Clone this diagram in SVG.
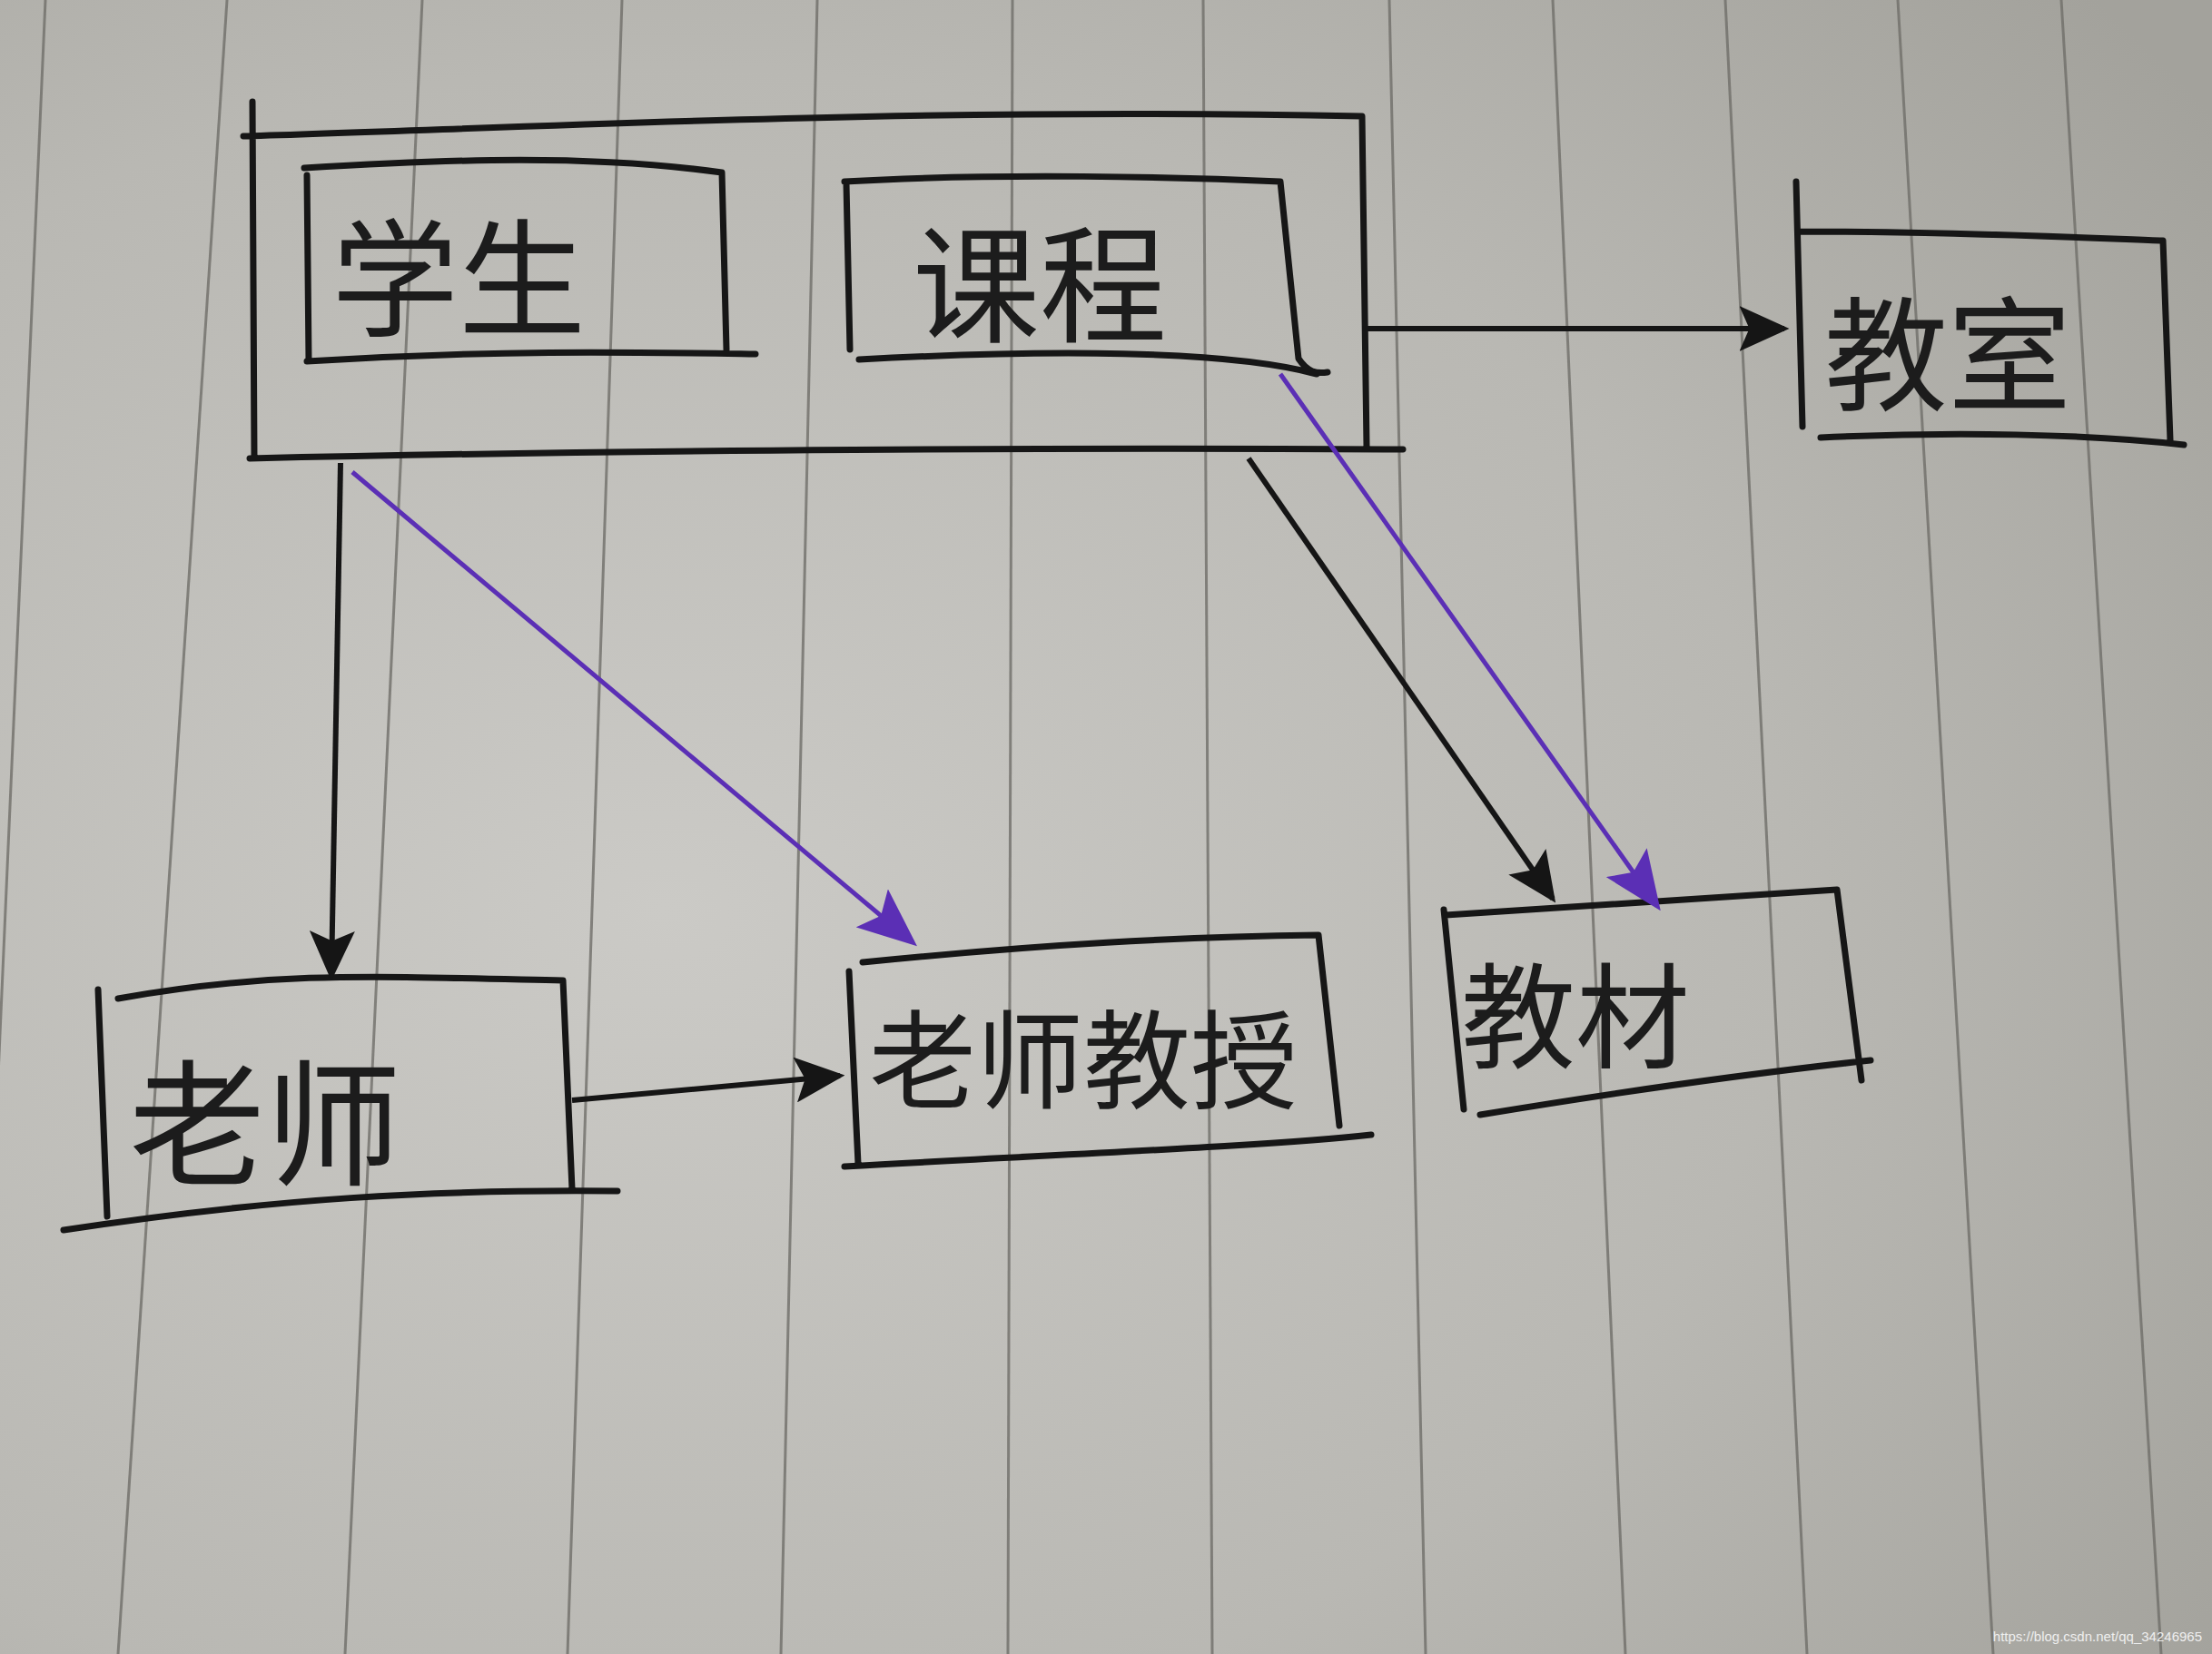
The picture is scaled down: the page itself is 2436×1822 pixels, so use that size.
<svg xmlns="http://www.w3.org/2000/svg" width="2436" height="1822" viewBox="0 0 2436 1822">
<defs>
<radialGradient id="paper" cx="0.3" cy="0.55" r="0.85">
<stop offset="0" stop-color="#cbcac6"/>
<stop offset="0.6" stop-color="#b9b8b3"/>
<stop offset="1" stop-color="#a3a29c"/>
</radialGradient>
<marker id="ah" viewBox="0 0 10 10" refX="9" refY="5" markerWidth="55" markerHeight="50" markerUnits="userSpaceOnUse" orient="auto" preserveAspectRatio="none">
<path d="M0,0 L10,5 L0,10 L2,5 z" fill="#151515"/>
</marker>
<marker id="ahp" viewBox="0 0 10 10" refX="9" refY="5" markerWidth="65" markerHeight="55" markerUnits="userSpaceOnUse" orient="auto" preserveAspectRatio="none">
<path d="M0,0 L10,5 L0,10 L2,5 z" fill="#5b2fb5"/>
</marker>
<style>
.rule{stroke:#6f6e69;stroke-width:3;fill:none;opacity:0.8}
.box{fill:none;stroke:#161616;stroke-width:7;stroke-linejoin:round;stroke-linecap:round}
.lbl{font-family:"Noto Sans CJK SC","Noto Sans",sans-serif;fill:#1c1c1c;text-anchor:middle;dominant-baseline:central}
.blk{stroke:#151515;stroke-width:6;fill:none}
.pur{stroke:#5b2fb5;stroke-width:5;fill:none}
</style>
</defs>
<rect width="2436" height="1822" fill="url(#paper)"/>
<g id="ruled-lines">
<line class="rule" x1="50" y1="0" x2="-30" y2="1822"/>
<line class="rule" x1="250" y1="0" x2="130" y2="1822"/>
<line class="rule" x1="465" y1="0" x2="380" y2="1822"/>
<line class="rule" x1="685" y1="0" x2="625" y2="1822"/>
<line class="rule" x1="900" y1="0" x2="860" y2="1822"/>
<line class="rule" x1="1115" y1="0" x2="1110" y2="1822"/>
<line class="rule" x1="1325" y1="0" x2="1335" y2="1822"/>
<line class="rule" x1="1530" y1="0" x2="1570" y2="1822"/>
<line class="rule" x1="1710" y1="0" x2="1790" y2="1822"/>
<line class="rule" x1="1900" y1="0" x2="1990" y2="1822"/>
<line class="rule" x1="2090" y1="0" x2="2195" y2="1822"/>
<line class="rule" x1="2270" y1="0" x2="2380" y2="1822"/>
</g>
<g id="group-student-course">
<path class="box" d="M278,112 L280,505 M268,150 C600,140 1000,118 1500,128 L1505,492 M275,505 C700,495 1200,493 1545,495"/>
</g>
<g id="node-student">
<path class="box" d="M338,193 L340,398 M335,185 C500,175 650,170 795,190 L800,385 M338,398 C550,385 700,388 832,390"/>
<text class="lbl" x="505" y="298" font-size="140">学生</text>
</g>
<g id="node-course">
<path class="box" d="M932,202 L936,385 M930,200 C1100,190 1300,195 1410,200 L1430,395 C1440,410 1450,412 1462,410 M946,396 C1150,385 1350,385 1450,412"/>
<text class="lbl" x="1145" y="305" font-size="140">课程</text>
</g>
<g id="node-classroom">
<path class="box" d="M1978,200 L1985,470 M1980,255 C2150,255 2300,262 2382,265 L2390,485 M2005,482 C2150,475 2300,478 2405,490"/>
<text class="lbl" x="2145" y="382" font-size="136">教室</text>
</g>
<g id="node-teacher">
<path class="box" d="M108,1090 L118,1340 M130,1100 C300,1070 400,1075 620,1080 L630,1310 M70,1355 C300,1320 480,1310 680,1312"/>
<text class="lbl" x="292" y="1228" font-size="150">老师</text>
</g>
<g id="node-teach">
<path class="box" d="M935,1070 L945,1282 M950,1060 C1150,1040 1300,1032 1452,1030 L1475,1240 M930,1285 C1200,1270 1400,1262 1510,1250"/>
<text class="lbl" x="1193" y="1160" font-size="118">老师教授</text>
</g>
<g id="node-textbook">
<path class="box" d="M1590,1002 L1612,1222 M1592,1008 C1800,995 1950,985 2023,980 L2050,1190 M1630,1228 C1800,1200 1950,1180 2060,1168"/>
<text class="lbl" x="1735" y="1112" font-size="126">教材</text>
</g>
<g id="connectors">
<line class="blk" x1="1500" y1="362" x2="1965" y2="362" marker-end="url(#ah)"/>
<line class="blk" x1="375" y1="510" x2="365" y2="1075" marker-end="url(#ah)"/>
<line class="blk" x1="1375" y1="505" x2="1710" y2="990" marker-end="url(#ah)"/>
<line class="blk" x1="630" y1="1212" x2="925" y2="1185" marker-end="url(#ah)"/>
<line class="pur" x1="388" y1="520" x2="1005" y2="1038" marker-end="url(#ahp)"/>
<line class="pur" x1="1410" y1="412" x2="1825" y2="998" marker-end="url(#ahp)"/>
</g>
<text x="2425" y="1808" font-family="Liberation Sans, Arial, sans-serif" font-size="15" fill="#eeeeee" text-anchor="end">https://blog.csdn.net/qq_34246965</text>
</svg>
